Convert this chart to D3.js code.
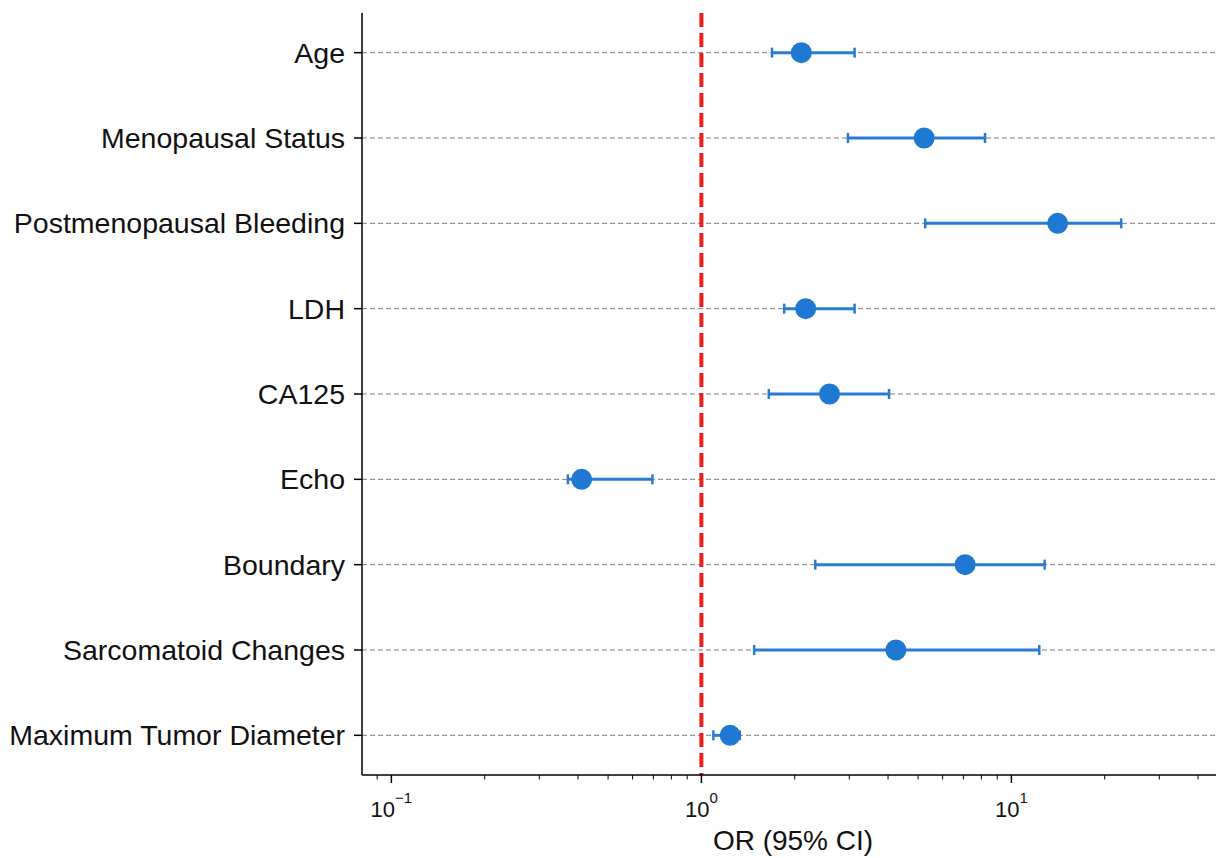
<!DOCTYPE html>
<html>
<head>
<meta charset="utf-8">
<script src="https://cdn.jsdelivr.net/npm/d3@7"></script>
<style>
  body { margin: 0; background: #fff; }
  svg text { font-family: "Liberation Sans", Arial, sans-serif; fill: #111; }
</style>
</head>
<body>
<div id="chart"></div>
<script>
// forest plot data
const variables = ["Age", "Menopausal Status", "Postmenopausal Bleeding", "LDH", "CA125",
                   "Echo", "Boundary", "Sarcomatoid Changes", "Maximum Tumor Diameter"];
const oddsRatio = [2.10, 5.23, 14.1, 2.17, 2.59, 0.411, 7.09, 4.24, 1.238];
const ciLower   = [1.69, 2.97, 5.27, 1.85, 1.65, 0.371, 2.33, 1.48, 1.093];
const ciUpper   = [3.12, 8.22, 22.6, 3.12, 4.03, 0.695, 12.8, 12.3, 1.33];
const majorTicks = [0.1, 1, 10];
const tickExponents = ["\u22121", "0", "1"];
const refLine = 1;

const width = 1216, height = 858;
const margin = { top: 13, left: 362, bottom: 775, right: 1224 };

const svg = d3.select("#chart").append("svg")
    .attr("width", width)
    .attr("height", height);

// log x scale, rows on y
const x = d3.scaleLog()
    .domain([0.0804, 48.5])
    .range([margin.left, margin.right]);

const y = d3.scaleLinear()
    .domain([-0.465, variables.length - 1 + 0.465])
    .range([margin.top, margin.bottom]);

// dashed gridlines for each row
svg.append("g").selectAll("line")
    .data(variables)
    .enter().append("line")
    .attr("x1", margin.left)
    .attr("x2", width)
    .attr("y1", (d, i) => y(i))
    .attr("y2", (d, i) => y(i))
    .attr("stroke", "#808080")
    .attr("stroke-width", 1)
    .attr("stroke-dasharray", "5,3");

// reference line at OR = 1
svg.append("line")
    .attr("x1", x(refLine)).attr("x2", x(refLine))
    .attr("y1", margin.top).attr("y2", margin.bottom)
    .attr("stroke", "#ee1c1c")
    .attr("stroke-width", 4)
    .attr("stroke-dasharray", "14,6");

// minor ticks (2..9 per decade) inside the domain
let minorTicks = [];
[0.01, 0.1, 1, 10].forEach(dec => {
    for (let k = 2; k <= 9; k++) {
        let v = dec * k;
        if (v >= x.domain()[0] && v <= x.domain()[1]) minorTicks.push(v);
    }
});

// x axis
const xAxis = svg.append("g")
    .attr("transform", `translate(0, ${margin.bottom})`);

xAxis.append("line")
    .attr("x1", margin.left).attr("x2", width)
    .attr("stroke", "#000").attr("stroke-width", 1.5);

xAxis.selectAll(".minor")
    .data(minorTicks)
    .enter().append("line")
    .attr("class", "minor")
    .attr("x1", d => x(d)).attr("x2", d => x(d))
    .attr("y1", 0).attr("y2", 4.5)
    .attr("stroke", "#000").attr("stroke-width", 1);

xAxis.selectAll(".major")
    .data(majorTicks)
    .enter().append("line")
    .attr("class", "major")
    .attr("x1", d => x(d)).attr("x2", d => x(d))
    .attr("y1", 0).attr("y2", 8)
    .attr("stroke", "#000").attr("stroke-width", 1.5);

const tickLabels = xAxis.selectAll(".tlabel")
    .data(majorTicks)
    .enter().append("text")
    .attr("class", "tlabel")
    .attr("x", d => x(d))
    .attr("y", 42)
    .attr("text-anchor", "middle")
    .style("font-size", "22px");

tickLabels.append("tspan").text("10");
tickLabels.append("tspan")
    .attr("dy", -14)
    .style("font-size", "15px")
    .text((d, i) => tickExponents[i]);

svg.append("text")
    .attr("x", (margin.left + margin.right) / 2)
    .attr("y", 850)
    .attr("text-anchor", "middle")
    .style("font-size", "28px")
    .text("OR (95% CI)");

// y axis spine, ticks and labels
const yAxis = svg.append("g");
yAxis.append("line")
    .attr("x1", margin.left).attr("x2", margin.left)
    .attr("y1", margin.top).attr("y2", margin.bottom)
    .attr("stroke", "#000").attr("stroke-width", 1.5);

yAxis.selectAll(".ytick")
    .data(variables)
    .enter().append("line")
    .attr("x1", margin.left - 8).attr("x2", margin.left)
    .attr("y1", (d, i) => y(i)).attr("y2", (d, i) => y(i))
    .attr("stroke", "#000").attr("stroke-width", 1.5);

yAxis.selectAll(".ylabel")
    .data(variables)
    .enter().append("text")
    .attr("x", margin.left - 17)
    .attr("y", (d, i) => y(i))
    .attr("dy", "0.35em")
    .attr("text-anchor", "end")
    .style("font-size", "28.5px")
    .text(d => d);

// error bars with caps
const blue = "#1f78d1";
const rows = variables.map((v, i) => ({ name: v, i: i, or: oddsRatio[i], lo: ciLower[i], hi: ciUpper[i] }));

const bars = svg.append("g");
bars.selectAll(".ci")
    .data(rows)
    .enter().append("line")
    .attr("x1", d => x(d.lo)).attr("x2", d => x(d.hi))
    .attr("y1", d => y(d.i)).attr("y2", d => y(d.i))
    .attr("stroke", "#2a7bd0").attr("stroke-width", 3);

["lo", "hi"].forEach(k => {
    bars.selectAll(".cap-" + k)
        .data(rows)
        .enter().append("line")
        .attr("x1", d => x(d[k])).attr("x2", d => x(d[k]))
        .attr("y1", d => y(d.i) - 5).attr("y2", d => y(d.i) + 5)
        .attr("stroke", "#2a7bd0").attr("stroke-width", 2.5);
});

bars.selectAll("circle")
    .data(rows)
    .enter().append("circle")
    .attr("cx", d => x(d.or))
    .attr("cy", d => y(d.i))
    .attr("r", 10.5)
    .attr("fill", blue);
</script>
</body>
</html>
